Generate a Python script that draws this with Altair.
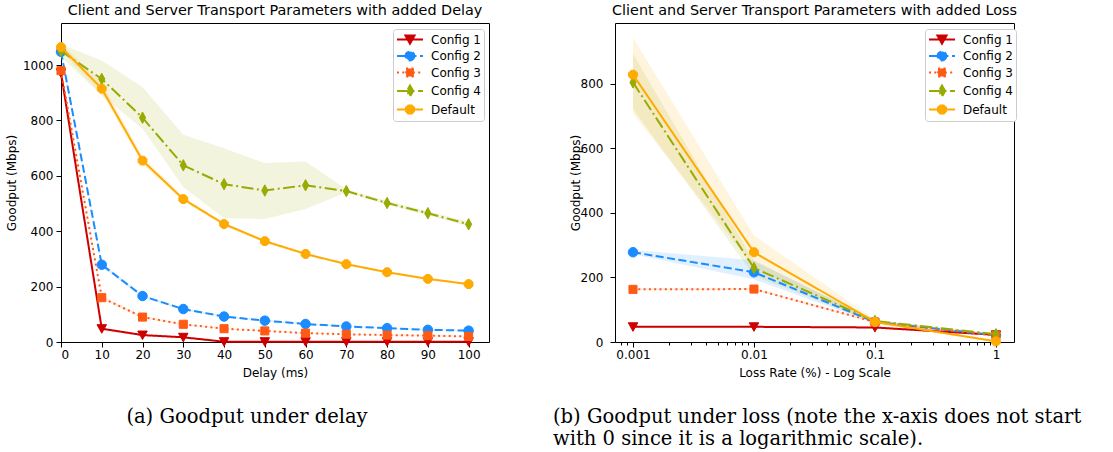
import altair as alt
import pandas as pd

SERIES = ["Config 1", "Config 2", "Config 3", "Config 4", "Default"]

# ---- Delay experiment (left) ----
delay_ms = [0, 10, 20, 30, 40, 50, 60, 70, 80, 90, 100]
delay_c1 = [972, 48, 25, 17, 1, 1, 1, 1, 1, 1, 1]
delay_c2 = [1048, 279, 166, 119, 92, 77, 65, 56, 50, 44, 41]
delay_c3 = [980, 160, 90, 64, 48, 40, 32, 28, 25, 23, 20]
delay_c4 = [1051, 950, 810, 638, 570, 547, 566, 545, 502, 465, 425]
delay_def = [1065, 915, 655, 516, 426, 364, 318, 281, 252, 228, 209]

delay_c1_lo = [960, 44, 22, 14, 0, 0, 0, 0, 0, 0, 0]
delay_c1_hi = [985, 52, 28, 20, 3, 2, 2, 2, 2, 2, 2]
delay_c2_lo = [1035, 272, 161, 115, 89, 74, 62, 54, 48, 42, 39]
delay_c2_hi = [1060, 286, 171, 123, 95, 80, 68, 58, 52, 46, 43]
delay_c3_lo = [968, 154, 86, 61, 46, 38, 30, 26, 23, 21, 18]
delay_c3_hi = [992, 166, 94, 67, 50, 42, 34, 30, 27, 25, 22]
delay_c4_lo = [1030, 890, 770, 560, 447, 444, 480, 540, 495, 458, 418]
delay_c4_hi = [1075, 1017, 921, 748, 700, 646, 652, 552, 510, 472, 435]
delay_def_lo = [1050, 895, 640, 507, 420, 358, 313, 277, 248, 225, 206]
delay_def_hi = [1080, 935, 670, 525, 432, 370, 323, 285, 256, 231, 212]

# ---- Loss experiment (right) ----
loss_rate = [0.001, 0.01, 0.1, 1]
loss_c1 = [47, 47, 45, 22]
loss_c2 = [278, 216, 62, 21]
loss_c3 = [163, 164, 62, 20]
loss_c4 = [804, 229, 65, 24]
loss_def = [828, 278, 62, 2]

loss_c1_lo = [45, 45, 42, 20]
loss_c1_hi = [49, 49, 48, 24]
loss_c2_lo = [272, 194, 58, 19]
loss_c2_hi = [285, 253, 66, 23]
loss_c3_lo = [160, 161, 58, 18]
loss_c3_hi = [166, 167, 66, 22]
loss_c4_lo = [722, 205, 60, 21]
loss_c4_hi = [893, 250, 70, 27]
loss_def_lo = [707, 232, 56, 0]
loss_def_hi = [942, 330, 70, 5]

delay_ticks = [0, 10, 20, 30, 40, 50, 60, 70, 80, 90, 100]
delay_y_ticks = [0, 200, 400, 600, 800, 1000]
loss_ticks = [0.001, 0.01, 0.1, 1]
loss_minor_ticks = [0.0008, 0.0009] + [k * 10.0 ** e for e in (-3, -2, -1) for k in range(2, 10)]
loss_y_ticks = [0, 200, 400, 600, 800]

caption_a = "(a) Goodput under delay"
caption_b = "(b) Goodput under loss (note the x-axis does not start\nwith 0 since it is a logarithmic scale)."

# ---- styles ----
COLORS = ["#cc0000", "#1a8cff", "#ff5a14", "#99aa00", "#ffaa00"]
DASHES = [[1, 0], [8, 3.5], [2, 3.3], [12, 3.5, 2, 3.5], [1, 0]]
MARKERS = [
    "M-1,-0.85L1,-0.85L0,0.95Z",
    "circle",
    "M-0.85,-0.85H0.85V0.85H-0.85Z",
    "M0,-1.2L0.65,0L0,1.2L-0.65,0Z",
    "M0.383,-0.924L0.924,-0.383L0.924,0.383L0.383,0.924L-0.383,0.924L-0.924,0.383L-0.924,-0.383L-0.383,-0.924Z",
]
# legend handles: a line segment with the marker in its middle (unit = 6.5 px)
LEGEND_SYMBOLS = [
    "M-1,0L3,0M0.3,-0.6L1.7,-0.6L1,0.65Z",
    "M-1,0L3,0M1.68,0A0.68,0.68,0,1,1,0.32,0A0.68,0.68,0,1,1,1.68,0Z",
    "M-1,0L3,0M0.4,-0.6L1.6,-0.6L1.6,0.6L0.4,0.6Z",
    "M-1,0L3,0M1,-0.85L1.48,0L1,0.85L0.52,0Z",
    "M-1,0L3,0M1.26,-0.628L1.628,-0.26L1.628,0.26L1.26,0.628L0.74,0.628L0.372,0.26L0.372,-0.26L0.74,-0.628Z",
]
FONT = "DejaVu Sans"


def long_df(xs, vals, los, his):
    rows = []
    for name, v, lo, hi in zip(SERIES, vals, los, his):
        for x, a, b, c in zip(xs, v, lo, hi):
            rows.append({"x": x, "series": name, "y": a, "lo": b, "hi": c})
    return pd.DataFrame(rows)


def panel(df, legend_x, legend_pos, xscale, major_x, yscale, yaxis, width, height, title,
          caption_chart, minor_x=None):
    def xa(kind):
        if minor_x is None:
            return major_x
        if kind == "major":
            return major_x
        if kind == "minor":
            return minor_x
        return None

    layers = []
    first = True
    for name, c in zip(SERIES, COLORS):
        layers.append(
            alt.Chart(df).transform_filter(alt.datum.series == name)
            .mark_area(opacity=0.13, color=c).encode(
                x=alt.X("x:Q", scale=xscale, axis=xa("major" if first else "none")),
                y=alt.Y("lo:Q", scale=yscale, axis=yaxis),
                y2="hi:Q",
            )
        )
        first = False
    for name, c, d, m in zip(SERIES, COLORS, DASHES, MARKERS):
        base = alt.Chart(df).transform_filter(alt.datum.series == name)
        layers.append(
            base.mark_line(color=c, strokeDash=d, strokeWidth=2).encode(
                x=alt.X("x:Q", scale=xscale, axis=xa("none")),
                y=alt.Y("y:Q", scale=yscale, axis=yaxis),
            )
        )
        layers.append(
            base.mark_point(shape=m, size=90, filled=True, fill=c, stroke=c,
                            strokeWidth=1, opacity=1).encode(
                x=alt.X("x:Q", scale=xscale, axis=xa("none")),
                y=alt.Y("y:Q", scale=yscale, axis=yaxis),
            )
        )

    def leg():
        return alt.Legend(title=None, orient="none", legendX=legend_pos[0], legendY=legend_pos[1])

    leg_df = pd.DataFrame({"x": [legend_x] * len(SERIES), "y": [0] * len(SERIES), "label": SERIES})
    layers.append(
        alt.Chart(leg_df).mark_point(clip=True, opacity=1, size=169).encode(
            x=alt.X("x:Q", scale=xscale, axis=xa("minor")),
            y=alt.Y("y:Q", scale=yscale, axis=yaxis),
            fill=alt.Fill("label:N", scale=alt.Scale(domain=SERIES, range=COLORS), legend=leg()),
            stroke=alt.Stroke("label:N", scale=alt.Scale(domain=SERIES, range=COLORS), legend=leg()),
            shape=alt.Shape("label:N", scale=alt.Scale(domain=SERIES, range=LEGEND_SYMBOLS),
                            legend=leg()),
            strokeDash=alt.StrokeDash("label:N", scale=alt.Scale(domain=SERIES, range=DASHES),
                                      legend=leg()),
        )
    )
    layers.append(caption_chart)
    ch = alt.layer(*layers)
    if minor_x is not None:
        ch = ch.resolve_axis(x="independent")
    return ch.properties(
        width=width, height=height,
        title=alt.TitleParams(title, fontSize=14.4, font=FONT, fontWeight="normal",
                              color="black", offset=5),
    )


H = 319
LW = 428
RW = 399

# ---- left panel ----
df_delay = long_df(
    delay_ms,
    [delay_c1, delay_c2, delay_c3, delay_c4, delay_def],
    [delay_c1_lo, delay_c2_lo, delay_c3_lo, delay_c4_lo, delay_def_lo],
    [delay_c1_hi, delay_c2_hi, delay_c3_hi, delay_c4_hi, delay_def_hi],
)
left_x_axis = alt.Axis(values=delay_ticks, title="Delay (ms)", orient="bottom", grid=False,
                       domain=False, tickSize=5, tickColor="black", labelPadding=2,
                       labelFontSize=12, labelFont=FONT, labelColor="black",
                       titleFontSize=12, titleFont=FONT, titleColor="black",
                       titleFontWeight="normal", titleY=30, titleBaseline="middle")
left_y_axis = alt.Axis(values=delay_y_ticks, format="d", title="Goodput (Mbps)", grid=False,
                       domain=False, tickSize=5, tickColor="black", labelPadding=3,
                       labelFontSize=12, labelFont=FONT, labelColor="black", titleFontSize=12,
                       titleFont=FONT, titleColor="black", titleFontWeight="normal",
                       titleX=-50, titleY=H / 2, titleBaseline="middle", titleAngle=270)
cap_a = alt.Chart(pd.DataFrame({"caption": [caption_a]})).mark_text(
    font="DejaVu Serif", fontSize=19.5, align="center", baseline="middle", color="black"
).encode(text="caption:N", x=alt.value(186), y=alt.value(394))

left = panel(
    df_delay, -50, (332, 6),
    alt.Scale(domain=[0, 105], nice=False, zero=False),
    left_x_axis,
    alt.Scale(domain=[0, 1152], nice=False),
    left_y_axis,
    LW, H, "Client and Server Transport Parameters with added Delay", cap_a,
)

# ---- right panel ----
df_loss = long_df(
    loss_rate,
    [loss_c1, loss_c2, loss_c3, loss_c4, loss_def],
    [loss_c1_lo, loss_c2_lo, loss_c3_lo, loss_c4_lo, loss_def_lo],
    [loss_c1_hi, loss_c2_hi, loss_c3_hi, loss_c4_hi, loss_def_hi],
)
right_x_axis = alt.Axis(values=loss_ticks, format="~g", title="Loss Rate (%) - Log Scale",
                        orient="bottom", grid=False, domain=False, tickSize=5,
                        tickColor="black", labelPadding=2, labelFontSize=12, labelFont=FONT,
                        labelColor="black", titleFontSize=12, titleFont=FONT,
                        titleColor="black", titleFontWeight="normal", titleY=30,
                        titleBaseline="middle")
right_minor_axis = alt.Axis(values=loss_minor_ticks, labels=False, title=None, orient="bottom",
                            grid=False, domain=False, tickSize=3, tickColor="black")
right_y_axis = alt.Axis(values=loss_y_ticks, format="d", title="Goodput (Mbps)", grid=False,
                        domain=False, tickSize=5, tickColor="black", labelPadding=7,
                        labelFontSize=12, labelFont=FONT, labelColor="black", titleFontSize=12,
                        titleFont=FONT, titleColor="black", titleFontWeight="normal",
                        titleX=-40, titleY=H / 2, titleBaseline="middle", titleAngle=270)
cap_b = alt.Chart(pd.DataFrame({"caption": [caption_b]})).mark_text(
    font="DejaVu Serif", fontSize=19.5, align="left", baseline="middle", color="black",
    lineBreak="\n", lineHeight=22
).encode(text="caption:N", x=alt.value(-62), y=alt.value(394))

right = panel(
    df_loss, 0.0001, (310, 6),
    alt.Scale(type="log", domain=[0.00071, 1.41], nice=False),
    right_x_axis,
    alt.Scale(domain=[0, 988], nice=False),
    right_y_axis,
    RW, H, "Client and Server Transport Parameters with added Loss", cap_b,
    minor_x=right_minor_axis,
)

chart = alt.hconcat(left, right, spacing=126, bounds="flush").resolve_scale(
    fill="independent", stroke="independent", shape="independent", strokeDash="independent"
).resolve_legend(
    fill="independent", stroke="independent", shape="independent", strokeDash="independent"
).properties(
    padding={"left": 4, "top": 2, "right": 5, "bottom": 5}
).configure(
    font=FONT
).configure_view(
    stroke="#000000", strokeWidth=1
).configure_legend(
    padding=3, strokeColor="#cccccc", fillColor="white",
    cornerRadius=3, labelFontSize=12, labelFont=FONT, labelColor="black",
    symbolSize=169, symbolStrokeWidth=2, labelOffset=20, rowPadding=-0.5,
    symbolFillColor="black"
)

chart.save("out.html", embed_options={"renderer": "svg", "actions": False})
